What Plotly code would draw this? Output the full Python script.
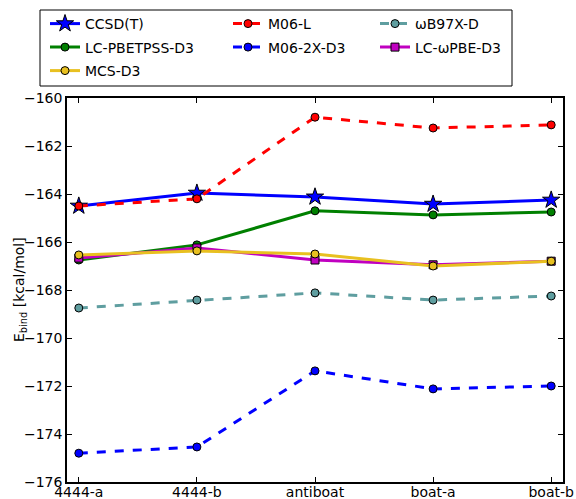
import plotly.graph_objects as go

# Conformers along the x axis
conformers = ["4444-a", "4444-b", "antiboat", "boat-a", "boat-b"]

# Binding energies (kcal/mol) per method
ccsd_t = [-164.50, -163.96, -164.12, -164.42, -164.25]
lc_pbetpss_d3 = [-166.75, -166.12, -164.70, -164.87, -164.75]
mcs_d3 = [-166.54, -166.37, -166.50, -167.00, -166.80]
m06_l = [-164.50, -164.20, -160.80, -161.25, -161.12]
m06_2x_d3 = [-174.80, -174.54, -171.37, -172.12, -172.00]
wb97x_d = [-168.75, -168.42, -168.12, -168.42, -168.25]
lc_wpbe_d3 = [-166.67, -166.25, -166.75, -166.95, -166.80]

y_ticks = list(range(-176, -159, 2))

# Figure and plot area in pixels
FW, FH = 576, 499
L, R, T, B = 67, 563, 98, 482
W, H = R - L, B - T

series = [
    # name, values, color, dash, symbol, size, legend column, legend row
    ("CCSD(T)", ccsd_t, "#0000ff", "solid", "star", 13, 0, 0),
    ("LC-PBETPSS-D3", lc_pbetpss_d3, "#008000", "solid", "circle", 8, 0, 1),
    ("MCS-D3", mcs_d3, "#e8c020", "solid", "circle", 8, 0, 2),
    ("M06-L", m06_l, "#ff0000", "dash", "circle", 8, 1, 0),
    ("M06-2X-D3", m06_2x_d3, "#0000ff", "dash", "circle", 8, 1, 1),
    ("\u03c9B97X-D", wb97x_d, "#5f9ea0", "dash", "circle", 8, 2, 0),
    ("LC-\u03c9PBE-D3", lc_wpbe_d3, "#c000c0", "solid", "square", 8, 2, 1),
]

font = dict(family="DejaVu Sans", size=14, color="black")
col_px = [45, 228, 375]
row_px = [24, 47.5, 71]

fig = go.Figure()
legends = {}
draw_order = [0, 1, 3, 4, 5, 6, 2]
for i in draw_order:
    name, vals, color, dash, symbol, size, col, row = series[i]
    leg = "legend" if i == 0 else f"legend{i + 1}"
    fig.add_trace(go.Scatter(
        x=conformers, y=vals, name=name, mode="lines+markers",
        line=dict(color=color, width=3, dash=dash),
        marker=dict(symbol=symbol, size=size, color=color,
                    line=dict(color="black", width=1)),
        legend=leg,
    ))
    legends[leg] = dict(
        font=font, bgcolor="rgba(0,0,0,0)", borderwidth=0,
        xanchor="left", yanchor="middle", itemwidth=30,
        x=(col_px[col] - L) / W, y=(B - row_px[row]) / H,
    )

axis_common = dict(
    showline=True, linecolor="black", linewidth=1.5, mirror="ticks",
    ticks="inside", ticklen=5, tickcolor="black", showgrid=False,
    tickfont=font, zeroline=False, automargin=False,
)

fig.update_layout(
    width=FW, height=FH,
    margin=dict(l=L, r=FW - R, t=T, b=FH - B, autoexpand=False),
    paper_bgcolor="white", plot_bgcolor="white",
    font=font,
    showlegend=True,
    xaxis=dict(type="category", range=[-0.1, 4.1], ticklabelstandoff=-4,
               **axis_common),
    yaxis=dict(range=[-176, -160], tickvals=y_ticks, **axis_common),
    annotations=[dict(
        text="E<sub>bind</sub> [kcal/mol]", textangle=-90, font=font,
        xref="paper", yref="paper", x=(20 - L) / W, y=0.5,
        xanchor="center", yanchor="middle", showarrow=False,
    )],
    shapes=[dict(
        type="rect", xref="paper", yref="paper",
        x0=(40 - L) / W, x1=(512 - L) / W,
        y0=(B - 86) / H, y1=(B - 10) / H,
        line=dict(color="black", width=1), fillcolor="rgba(0,0,0,0)",
        layer="above",
    )],
    **legends,
)

fig.write_html("out.html")
